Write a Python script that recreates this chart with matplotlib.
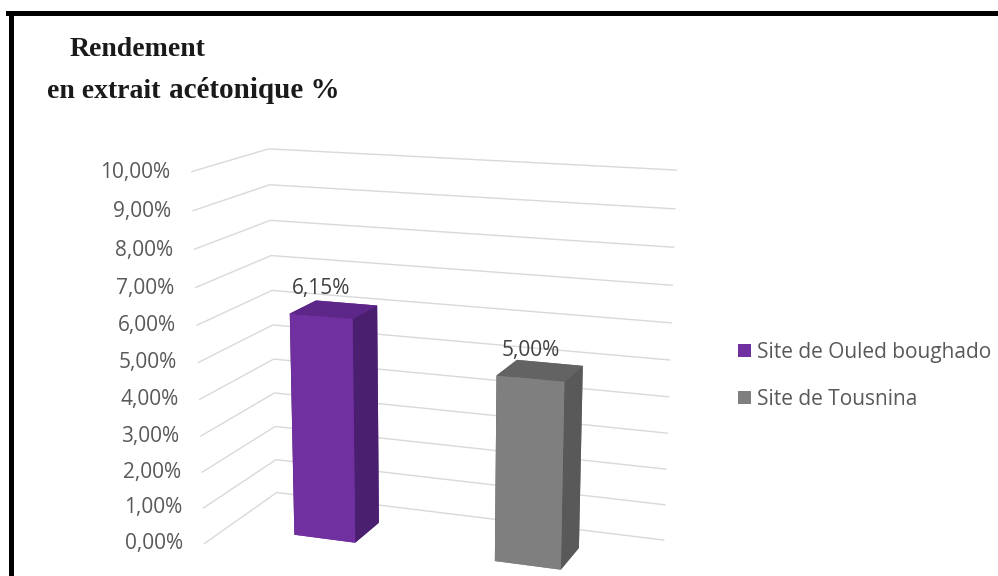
import numpy as np
import matplotlib
matplotlib.use('Agg')
import matplotlib.pyplot as plt
from matplotlib.patches import Patch
from matplotlib.lines import Line2D

W, H = 998, 576

# ---- data ----
categories = ['Site de Ouled boughado', 'Site de Tousnina']
values = [0.0615, 0.0500]
value_labels = ['6,15%', '5,00%']
tick_values = [0.00, 0.01, 0.02, 0.03, 0.04, 0.05, 0.06, 0.07, 0.08, 0.09, 0.10]
tick_labels = ['0,00%', '1,00%', '2,00%', '3,00%', '4,00%', '5,00%',
               '6,00%', '7,00%', '8,00%', '9,00%', '10,00%']

# ---- style ----
front_colors = ['#7030A0', '#7F7F7F']
top_colors = ['#5C2788', '#636363']
side_colors = ['#4B1F6F', '#595959']

# camera / layout (perspective view like the Excel 3-D column chart)
ELEV, AZIM, FOCAL = 14.508, -69.688, float(np.exp(-0.5751))
BOX = (1.0, float(np.exp(-0.9305)), float(np.exp(-0.1358)))
SIZE, CX, CY = 589.59, 426.74, 369.20      # square axes size and centre (pixels)
HALF_W, Y0, Y1 = 0.156, 0.3206, 0.6956     # bar half width and depth span

fig = plt.figure(figsize=(W / 100, H / 100), dpi=100)
ax = fig.add_axes([(CX - SIZE / 2) / W, 1 - (CY + SIZE / 2) / H, SIZE / W, SIZE / H],
                  projection='3d', computed_zorder=False)
ax.view_init(ELEV, AZIM)
ax.set_proj_type('persp', focal_length=FOCAL)
ax.set_box_aspect(BOX)

XMAX = len(categories)
ZMAX = tick_values[-1]

# gridlines on side wall and back wall
for t in tick_values:
    ax.plot([0, 0, XMAX], [0, 1, 1], [t, t, t], color='#D9D9D9', lw=1.0, zorder=1)

# bars
xs = np.arange(len(categories)) + 0.5
fc = []
for i in range(len(categories)):
    fc += [front_colors[i], top_colors[i], front_colors[i], front_colors[i],
           side_colors[i], side_colors[i]]
ax.bar3d(xs - HALF_W, [Y0] * len(xs), [0] * len(xs), 2 * HALF_W, Y1 - Y0, values,
         color=fc, shade=False, linewidth=0, zorder=3)

# axis tick labels
for t, lbl in zip(tick_values, tick_labels):
    ax.text(-0.11, 0, t, lbl, ha='right', va='center_baseline', color='#595959',
            fontsize=15, family='Open Sans', zorder=4)
# data labels
for x, val, lbl in zip(xs, values, value_labels):
    ax.text(x, Y0, val + 0.006, lbl, ha='center', va='baseline', color='#404040',
            fontsize=15, family='Open Sans', zorder=4)

ax.set_xlim(0, XMAX); ax.set_ylim(0, 1); ax.set_zlim(0, ZMAX)
ax.set_xticks([]); ax.set_yticks([]); ax.set_zticks([])
ax.set_axis_off()

# legend
handles = [Patch(facecolor=c, edgecolor='none') for c in front_colors]
fig.legend(handles, categories, loc='center left', bbox_to_anchor=(738 / W, 1 - 376 / H),
           frameon=False, prop={'family': 'Open Sans', 'size': 15}, labelcolor='#595959',
           handlelength=0.6, handleheight=0.6, handletextpad=0.3, labelspacing=1.25,
           borderpad=0, borderaxespad=0)

# title
fig.text(70 / W, 1 - 56 / H, 'Rendement', family='Liberation Serif', weight='bold',
         fontsize=20, va='baseline', color='#1A1A1A')
fig.text(47 / W, 1 - 98 / H, 'en extrait', family='Liberation Serif',
         weight='bold', fontsize=20, va='baseline', color='#1A1A1A')
fig.text(169 / W, 1 - 98 / H, 'acétonique %', family='Liberation Serif',
         weight='bold', fontsize=21, va='baseline', color='#1A1A1A')

# black frame (top and left edges)
fig.add_artist(Line2D([11 / W, 11 / W], [-0.05, 1 - 12.5 / H], color='black', lw=3.6,
                      transform=fig.transFigure))
fig.add_artist(Line2D([8 / W, 1.05], [1 - 12.5 / H, 1 - 12.5 / H], color='black', lw=3.6,
                      transform=fig.transFigure))

fig.savefig('out.png', dpi=100)
